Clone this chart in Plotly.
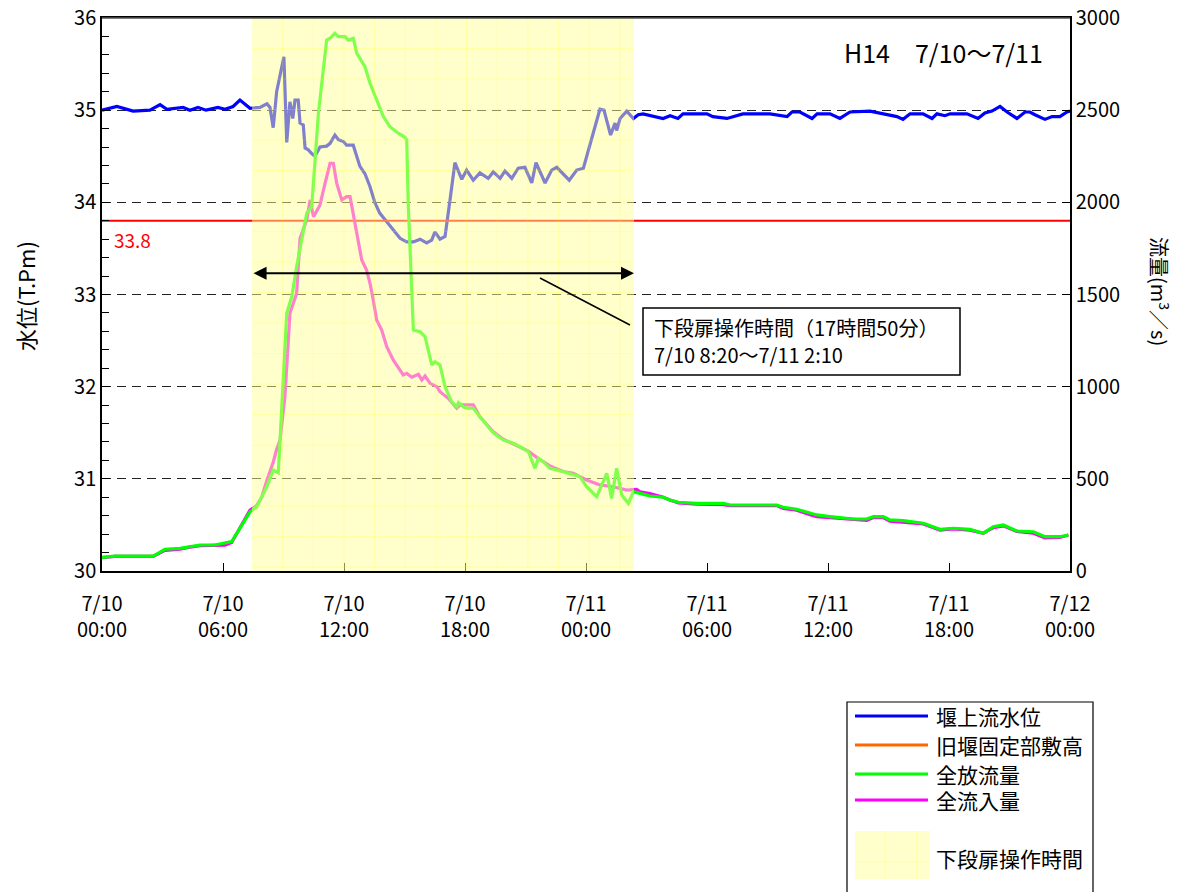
import plotly.graph_objects as go
from datetime import datetime, timedelta

# ---------------- data ----------------
BASE = datetime(2002, 7, 10)

NAME_LEVEL = "堰上流水位"
NAME_CREST = "旧堰固定部敷高"
NAME_OUT = "全放流量"
NAME_IN = "全流入量"
NAME_OP = "下段扉操作時間"

# upstream water level (T.P. m) : hours from 7/10 00:00
level_hours = [
    0, 0.74, 1.54, 2.38, 2.88, 3.22, 4.02, 4.36, 4.76, 5.16,
    5.75, 6.10, 6.50, 6.84, 7.34, 7.83, 8.18, 8.33, 8.49, 8.66,
    9.02, 9.16, 9.32, 9.46, 9.57, 9.73, 9.82, 9.98, 10.07, 10.23,
    10.40, 10.56, 10.81, 11.14, 11.31, 11.55, 11.72, 11.97, 12.13, 12.46,
    12.63, 12.79, 13.04, 13.29, 13.54, 13.78, 14.12, 14.44, 14.78, 15.11,
    15.44, 15.77, 16.10, 16.35, 16.51, 16.76, 17.01, 17.26, 17.50, 17.84,
    18.08, 18.41, 18.74, 19.15, 19.40, 19.74, 19.98, 20.32, 20.64, 20.97,
    21.31, 21.52, 21.97, 22.30, 22.55, 23.17, 23.54, 23.87, 24.28, 24.69,
    24.89, 25.22, 25.44, 25.52, 25.69, 26.02, 26.35, 26.59, 26.83, 27.82,
    28.17, 28.56, 28.81, 30.00, 30.29, 30.99, 31.78, 33.12, 33.97, 34.21,
    34.61, 35.21, 35.46, 36.10, 36.59, 37.09, 38.08, 38.33, 38.93, 39.42,
    39.72, 40.07, 40.71, 41.16, 41.40, 41.80, 42.05, 42.89, 43.44, 43.78,
    44.13, 44.53, 44.88, 45.37, 45.77, 46.01, 46.26, 46.76, 47.11, 47.50,
    47.85, 48.0,
]
level_values = [
    35.00, 35.04, 34.99, 35.00, 35.06, 35.01, 35.03, 35.00, 35.03, 35.00,
    35.03, 35.01, 35.04, 35.11, 35.02, 35.03, 35.07, 35.03, 34.81, 35.20,
    35.58, 34.65, 35.09, 34.91, 35.11, 35.11, 34.86, 34.84, 34.59, 34.57,
    34.53, 34.50, 34.60, 34.61, 34.64, 34.73, 34.68, 34.66, 34.62, 34.62,
    34.50, 34.39, 34.31, 34.17, 33.99, 33.88, 33.79, 33.70, 33.61, 33.57,
    33.57, 33.60, 33.56, 33.59, 33.68, 33.60, 33.63, 34.03, 34.43, 34.25,
    34.35, 34.24, 34.32, 34.26, 34.33, 34.26, 34.34, 34.26, 34.37, 34.38,
    34.21, 34.43, 34.21, 34.35, 34.38, 34.24, 34.35, 34.37, 34.68, 35.01,
    35.00, 34.73, 34.86, 34.78, 34.91, 34.99, 34.91, 34.95, 34.96, 34.91,
    34.94, 34.91, 34.96, 34.96, 34.93, 34.91, 34.96, 34.96, 34.93, 34.98,
    34.98, 34.91, 34.96, 34.96, 34.91, 34.98, 34.99, 34.98, 34.95, 34.93,
    34.90, 34.96, 34.96, 34.91, 34.96, 34.94, 34.96, 34.96, 34.91, 34.97,
    34.99, 35.04, 34.98, 34.91, 34.98, 34.98, 34.95, 34.90, 34.93, 34.93,
    34.98, 34.99,
]

# old weir fixed crest elevation (T.P. m)
crest_hours = [0, 48]
crest_values = [33.8, 33.8]
crest_label = "33.8"

# total outflow (m3/s)
outflow_hours = [
    0, 0.64, 2.54, 3.12, 3.87, 4.28, 4.86, 5.60, 6.10, 6.43,
    6.84, 7.34, 7.67, 8.17, 8.49, 8.66, 8.74, 8.83, 8.99, 9.16,
    9.41, 9.65, 10.15, 10.40, 10.73, 11.14, 11.31, 11.55, 11.72, 12.05,
    12.21, 12.46, 12.63, 12.79, 13.04, 13.29, 13.62, 13.95, 14.28, 14.69,
    15.02, 15.11, 15.19, 15.36, 15.44, 15.77, 16.02, 16.35, 16.51, 16.76,
    17.01, 17.34, 17.59, 17.67, 17.92, 18.08, 18.41, 18.74, 19.15, 19.40,
    19.90, 20.39, 20.73, 21.14, 21.47, 21.64, 21.88, 22.21, 22.87, 23.37,
    23.70, 24.03, 24.53, 25.03, 25.27, 25.52, 25.77, 26.10, 26.35, 26.68,
    27.17, 27.83, 28.16, 28.58, 29.49, 30.81, 31.14, 33.46, 33.78, 34.45,
    35.11, 35.44, 36.10, 37.25, 37.92, 38.25, 38.74, 39.07, 39.73, 40.07,
    40.73, 41.55, 42.21, 43.04, 43.70, 44.20, 44.69, 45.36, 46.18, 46.76,
    47.50, 47.92,
]
outflow_values = [
    74, 81, 81, 118, 123, 132, 141, 141, 150, 159,
    232, 321, 348, 457, 548, 539, 533, 711, 1036, 1398,
    1488, 1651, 1940, 1977, 2483, 2880, 2890, 2917, 2899, 2899,
    2880, 2890, 2809, 2781, 2736, 2646, 2555, 2465, 2410, 2375,
    2353, 2338, 1977, 1470, 1307, 1298, 1271, 1118, 1135, 1118,
    1000, 918, 891, 913, 891, 883, 883, 837, 783, 750,
    711, 693, 674, 647, 557, 611, 593, 557, 539, 521,
    512, 457, 403, 530, 394, 557, 412, 367, 430, 421,
    407, 400, 385, 373, 367, 367, 358, 358, 346, 335,
    313, 304, 295, 282, 282, 295, 295, 277, 273, 267,
    259, 226, 232, 226, 205, 240, 250, 217, 213, 186,
    186, 195,
]

# total inflow (m3/s)
inflow_hours = [
    0, 0.64, 2.54, 3.12, 3.87, 4.28, 4.86, 5.60, 6.10, 6.43,
    6.84, 7.34, 7.67, 7.92, 8.17, 8.49, 8.66, 8.83, 9.07, 9.24,
    9.32, 9.65, 9.82, 10.15, 10.32, 10.49, 10.81, 11.06, 11.31, 11.47,
    11.64, 11.89, 12.13, 12.30, 12.46, 12.63, 12.88, 13.12, 13.29, 13.45,
    13.62, 13.87, 14.12, 14.44, 14.78, 14.94, 15.11, 15.36, 15.69, 15.86,
    16.02, 16.27, 16.60, 16.76, 17.17, 17.59, 17.76, 18.41, 18.74, 19.15,
    19.40, 19.90, 20.39, 20.73, 21.14, 21.64, 22.21, 22.87, 23.37, 24.03,
    24.69, 25.35, 26.02, 26.51, 26.68, 27.17, 27.83, 28.16, 28.58, 29.49,
    30.81, 31.14, 33.46, 33.78, 34.45, 35.11, 35.44, 36.10, 37.25, 37.92,
    38.25, 38.74, 39.07, 39.73, 40.07, 40.73, 41.55, 42.21, 43.04, 43.70,
    44.20, 44.69, 45.36, 46.18, 46.76, 47.50, 47.92,
]
inflow_values = [
    72, 79, 79, 112, 118, 128, 137, 137, 140, 155,
    235, 330, 355, 400, 490, 590, 660, 711, 946, 1271,
    1398, 1506, 1805, 1904, 2013, 1922, 1986, 2103, 2212, 2212,
    2103, 2013, 2031, 2031, 1940, 1850, 1687, 1633, 1561, 1470,
    1362, 1307, 1217, 1145, 1090, 1063, 1072, 1051, 1067, 1036,
    1058, 1018, 1000, 973, 937, 883, 901, 901, 837, 783,
    755, 715, 690, 672, 650, 610, 570, 540, 530, 494,
    467, 457, 439, 443, 430, 420, 400, 385, 370, 362,
    360, 355, 355, 340, 330, 305, 295, 290, 280, 275,
    290, 290, 270, 265, 262, 255, 222, 228, 222, 205,
    235, 245, 215, 205, 180, 182, 195,
]

# gate operation period (as drawn)
op_start_h = 7.44
op_end_h = 26.38
op_text_1 = "下段扉操作時間（17時間50分）"
op_text_2 = "7/10 8:20～7/11 2:10"
chart_title = "H14　7/10～7/11"

x_tick_hours = [0, 6, 12, 18, 24, 30, 36, 42, 48]
x_tick_labels = ["7/10<br>00:00", "7/10<br>06:00", "7/10<br>12:00", "7/10<br>18:00",
                 "7/11<br>00:00", "7/11<br>06:00", "7/11<br>12:00", "7/11<br>18:00",
                 "7/12<br>00:00"]
y_left_title = "水位(T.Pm)"
y_right_title = "流量(m<sup>3</sup>／s)"

assert len(level_hours) == len(level_values)
assert len(outflow_hours) == len(outflow_values)
assert len(inflow_hours) == len(inflow_values)


def ts(hours):
    return [BASE + timedelta(hours=h) for h in hours]


# ---------------- layout helpers ----------------
W, H = 1186, 892
# plot area in page pixels
SL, SR, ST, SB = 102, 1070, 18, 571


def px(X):
    return (X - SL) / (SR - SL)


def py(Y):
    return (SB - Y) / (SB - ST)


FONT = "Noto Sans CJK JP, Liberation Sans, sans-serif"
BLUE, RED, ORANGE, GREEN, MAGENTA = "#0000FF", "#FF0000", "#FF6600", "#00FF00", "#FF00FF"

fig = go.Figure()
fig.add_trace(go.Scatter(x=ts(level_hours), y=level_values, mode="lines", name=NAME_LEVEL,
                         line=dict(color=BLUE, width=3.2), yaxis="y", showlegend=False))
fig.add_trace(go.Scatter(x=ts(crest_hours), y=crest_values, mode="lines", name=NAME_CREST,
                         line=dict(color=RED, width=1.8), yaxis="y", showlegend=False))
fig.add_trace(go.Scatter(x=ts(inflow_hours), y=inflow_values, mode="lines", name=NAME_IN,
                         line=dict(color=MAGENTA, width=3.2), yaxis="y2", showlegend=False))
fig.add_trace(go.Scatter(x=ts(outflow_hours), y=outflow_values, mode="lines", name=NAME_OUT,
                         line=dict(color=GREEN, width=3.2), yaxis="y2", showlegend=False))

shapes = []
op_x0 = BASE + timedelta(hours=op_start_h)
op_x1 = BASE + timedelta(hours=op_end_h)
# translucent operation-period band drawn over the lines
shapes.append(dict(type="rect", xref="x", yref="paper", x0=op_x0, x1=op_x1, y0=0, y1=1,
                   fillcolor="#FFFF99", opacity=0.5, line=dict(width=0), layer="above"))
# faint texture inside band
TEX = "rgba(255,255,0,0.2)"
k = -10
while True:
    h = 12 + k * 1.52
    k += 1
    if h > op_end_h:
        break
    if h <= op_start_h:
        continue
    xx = BASE + timedelta(hours=h)
    shapes.append(dict(type="line", xref="x", yref="paper", x0=xx, x1=xx, y0=0, y1=1,
                       line=dict(color=TEX, width=1), layer="above"))
for j in range(1, 19):
    yy = 36 - j * 0.331
    if yy <= 30:
        break
    shapes.append(dict(type="line", xref="x", yref="y", x0=op_x0, x1=op_x1, y0=yy, y1=yy,
                       line=dict(color=TEX, width=1), layer="above"))

# top border of the plot frame
shapes.append(dict(type="line", xref="paper", yref="paper", x0=0, x1=1, y0=1, y1=1,
                   line=dict(color="#555555", width=1.5), layer="above"))

# leader line and note box
shapes.append(dict(type="line", xref="paper", yref="paper", x0=px(540), y0=py(278),
                   x1=px(630), y1=py(325), line=dict(color="black", width=1.5), layer="above"))
shapes.append(dict(type="rect", xref="paper", yref="paper", x0=px(643), x1=px(960),
                   y0=py(375), y1=py(308), fillcolor="white", line=dict(color="black", width=1.5),
                   layer="above"))

# manual legend
shapes.append(dict(type="rect", xref="paper", yref="paper", x0=px(847), x1=px(1093),
                   y0=py(905), y1=py(702), fillcolor="white", line=dict(color="black", width=1.2),
                   layer="above"))
legend_rows = [(NAME_LEVEL, BLUE, 716), (NAME_CREST, ORANGE, 745),
               (NAME_OUT, GREEN, 774), (NAME_IN, MAGENTA, 800)]
annotations = []
for name, col, yp in legend_rows:
    shapes.append(dict(type="line", xref="paper", yref="paper", x0=px(855), x1=px(928),
                       y0=py(yp), y1=py(yp), line=dict(color=col, width=3), layer="above"))
    annotations.append(dict(xref="paper", yref="paper", x=px(934), y=py(yp), text=name,
                            showarrow=False, xanchor="left", yanchor="middle",
                            font=dict(size=21, color="black", family=FONT)))
shapes.append(dict(type="rect", xref="paper", yref="paper", x0=px(855), x1=px(930),
                   y0=py(879), y1=py(831), fillcolor="#FFFFCC", line=dict(width=0), layer="above"))
for xv in (885, 916.7):
    shapes.append(dict(type="line", xref="paper", yref="paper", x0=px(xv), x1=px(xv),
                       y0=py(879), y1=py(831), line=dict(color=TEX, width=1), layer="above"))
shapes.append(dict(type="line", xref="paper", yref="paper", x0=px(855), x1=px(930),
                   y0=py(861.7), y1=py(861.7), line=dict(color=TEX, width=1), layer="above"))
annotations.append(dict(xref="paper", yref="paper", x=px(934), y=py(858), text=NAME_OP,
                        showarrow=False, xanchor="left", yanchor="middle",
                        font=dict(size=21, color="black", family=FONT)))

# double-headed arrow over operation period
arrow_y = 33.23
annotations.append(dict(x=op_x1, y=arrow_y, ax=op_x0, ay=arrow_y, xref="x", yref="y",
                        axref="x", ayref="y", text=" ", showarrow=True, arrowhead=2,
                        arrowside="end+start", arrowsize=1.3, arrowwidth=2, arrowcolor="black",
                        font=dict(size=2)))
# note texts
annotations.append(dict(xref="paper", yref="paper", x=px(652), y=py(327), text=op_text_1,
                        showarrow=False, xanchor="left", yanchor="middle",
                        font=dict(size=20, color="black", family=FONT)))
annotations.append(dict(xref="paper", yref="paper", x=px(652), y=py(354), text=op_text_2,
                        showarrow=False, xanchor="left", yanchor="middle",
                        font=dict(size=20, color="black", family=FONT)))
# title
annotations.append(dict(xref="paper", yref="paper", x=px(943), y=py(52), text=chart_title,
                        showarrow=False, xanchor="center", yanchor="middle",
                        font=dict(size=25, color="black", family=FONT)))
# crest label
annotations.append(dict(xref="x", yref="y", x=BASE + timedelta(hours=0.5), y=crest_values[0],
                        yshift=-19, text=crest_label, showarrow=False, xanchor="left",
                        yanchor="middle", font=dict(size=19, color=RED, family=FONT)))
# axis titles
annotations.append(dict(xref="paper", yref="paper", x=px(25), y=py(296), text=y_left_title,
                        showarrow=False, textangle=-90, xanchor="center", yanchor="middle",
                        font=dict(size=22, color="black", family=FONT)))
annotations.append(dict(xref="paper", yref="paper", x=px(1160), y=py(291), text=y_right_title,
                        showarrow=False, textangle=90, xanchor="center", yanchor="middle",
                        font=dict(size=20, color="black", family=FONT)))

fig.update_layout(
    width=W, height=H,
    margin=dict(l=SL, r=W - SR, t=ST, b=H - SB, pad=0, autoexpand=False),
    paper_bgcolor="white", plot_bgcolor="white",
    font=dict(family=FONT, size=20, color="black"),
    showlegend=False,
    shapes=shapes, annotations=annotations,
    xaxis=dict(type="date", range=[BASE, BASE + timedelta(hours=48)],
               tickvals=ts(x_tick_hours), ticktext=x_tick_labels,
               ticks="inside", ticklen=8, tickcolor="black", tickwidth=1,
               showgrid=False, showline=True, linecolor="black", linewidth=1.5, mirror=True,
               zeroline=False, tickfont=dict(size=20), automargin=False,
               ticklabelstandoff=14, ticklabeloverflow="allow"),
    yaxis=dict(range=[30, 36], dtick=1, tick0=30, ticks="inside", ticklen=8, tickcolor="black",
               minor=dict(dtick=0.2, ticks="inside", ticklen=7, tickcolor="black", showgrid=False),
               showgrid=True, gridcolor="#222222", gridwidth=1, griddash="9px,6px",
               showline=True, linecolor="black", linewidth=1.5, zeroline=False,
               tickfont=dict(size=20), automargin=False, ticklabeloverflow="allow"),
    yaxis2=dict(range=[0, 3000], dtick=500, overlaying="y", side="right",
                ticks="inside", ticklen=8, tickcolor="black", showgrid=False,
                showline=True, linecolor="black", linewidth=1.5, zeroline=False,
                tickfont=dict(size=20), automargin=False, ticklabeloverflow="allow"),
)

fig.write_html("out.html", config={"displayModeBar": False},
               post_script="document.body.style.margin='0';document.body.style.overflow='hidden';")
